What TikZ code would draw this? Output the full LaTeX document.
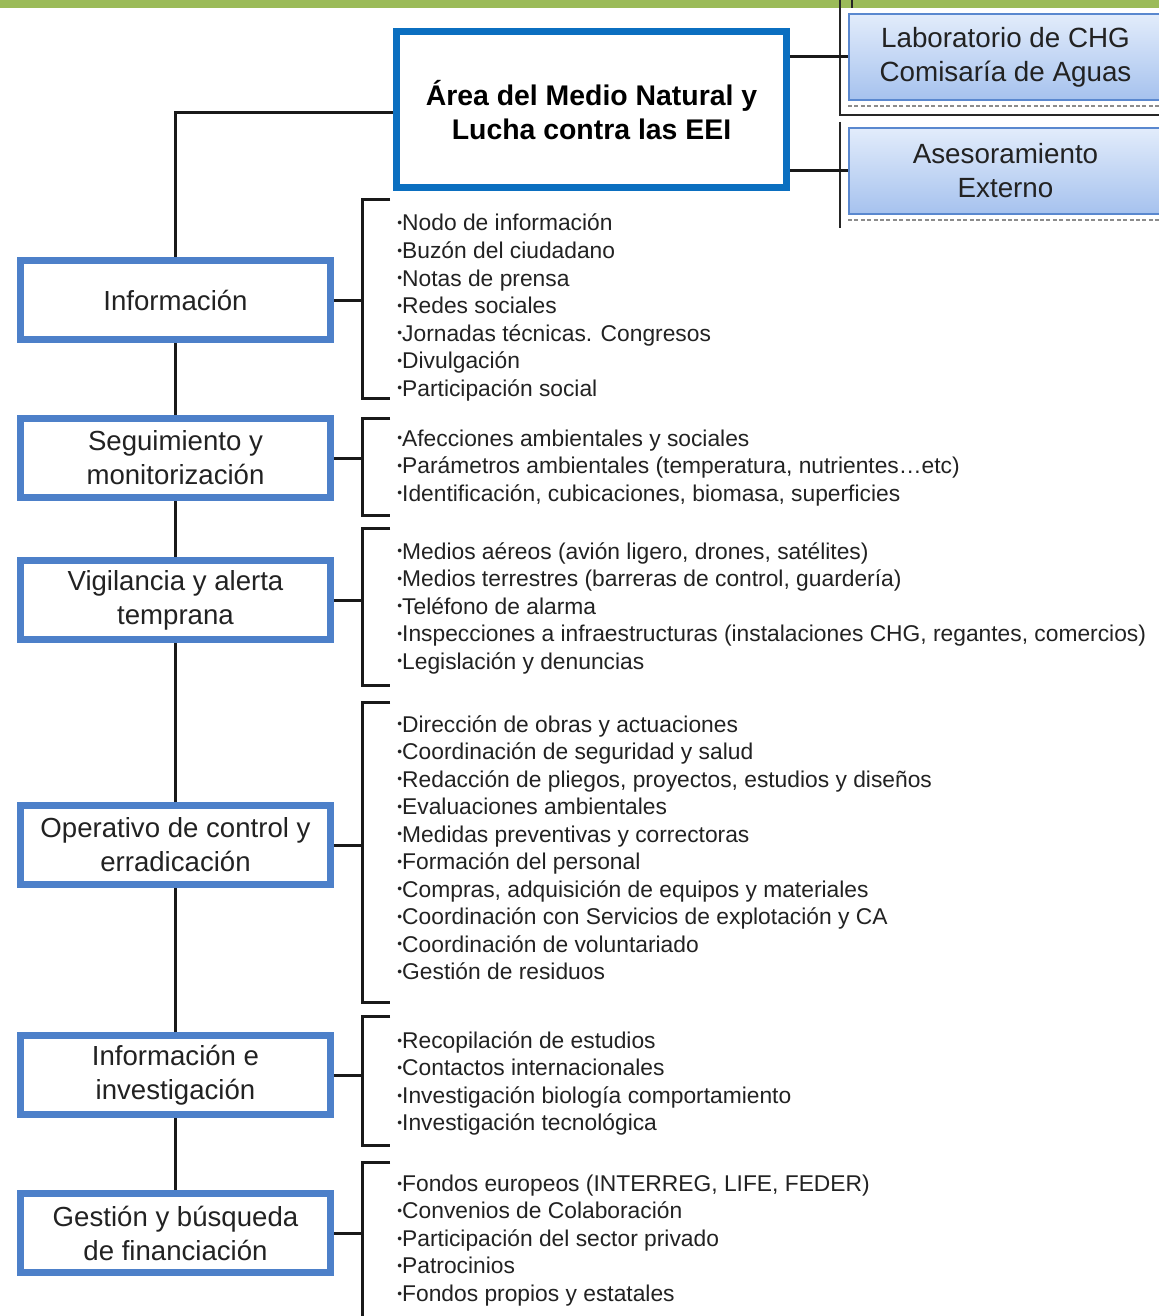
\documentclass[tikz,border=0pt]{standalone}
\usepackage{fontspec}
\setmainfont{Liberation Sans}
\definecolor{barGreen}{HTML}{9BBB59}
\definecolor{mainBlue}{HTML}{0B6FC0}
\definecolor{boxBlue}{HTML}{4D80C9}
\definecolor{extTop}{HTML}{E2ECFB}
\definecolor{extBot}{HTML}{A6C2EE}
\definecolor{extLine}{HTML}{5A88CF}
\definecolor{txt}{HTML}{222222}
\newcommand\itembul{\raisebox{0.25ex}{\scalebox{0.6}{•}}}
\begin{document}
\begin{tikzpicture}[x=0.5pt,y=-0.5pt,
  conn/.style={line width=1.5pt, draw=black!90},
  thin conn/.style={line width=1pt, draw=black!85},
  lbox/.style={draw=boxBlue, line width=3.5pt, fill=white, minimum width=155pt, minimum height=39.5pt, inner sep=0pt, align=center, font=\fontsize{13.8}{17}\selectfont, text=txt},
  mbox/.style={draw=mainBlue, line width=3.5pt, fill=white, minimum width=195pt, minimum height=78pt, inner sep=0pt, align=center, font=\fontsize{14.2}{17}\selectfont\bfseries, text=black},
  ebox/.style={draw=extLine, line width=1pt, top color=extTop, bottom color=extBot, minimum width=156.5pt, minimum height=43pt, inner sep=0pt, align=center, font=\fontsize{13.9}{17}\selectfont, text=txt},
  item/.style={anchor=base west, inner sep=0pt, font=\fontsize{11.4}{13.75}\selectfont, text=txt}]
\useasboundingbox (0,0) rectangle (1159,1316);
\clip (0,0) rectangle (1159,1316);
\fill[white] (0,0) rectangle (1159,1316);
% top bar
\fill[barGreen] (0,0) rectangle (1159,8);

% main box and external boxes
\node[mbox] (main) at (591.5,110) {Área del Medio Natural y\\Lucha contra las EEI};
\node[ebox] (lab) at (1005.5,57) {Laboratorio de CHG\\Comisaría de Aguas};
\node[ebox] (ext) at (1005.5,171) {Asesoramiento\\Externo};

% external frame lines
\coordinate (fa) at (840,0);
\coordinate (fb) at (840,115);
\coordinate (fc) at (1159,115);
\coordinate (fd) at (840,122);
\coordinate (fe) at (840,228);
\coordinate (ff) at (852,0);
\coordinate (fg) at (852,8);
\draw[thin conn] (fa) -- (fb) -- (fc);
\draw[thin conn] (fd) -- (fe);
\draw[thin conn] (ff) -- (fg);
\draw[black!45, line width=0.8pt, dash pattern=on 2pt off 1.2pt] (lab.south west) ++(0,5) -- ++(320,0);
\draw[black!45, line width=0.8pt, dash pattern=on 2pt off 1.2pt] (ext.south west) ++(0,5) -- ++(320,0);
\draw[conn] (main.east |- lab.west) -- (lab.west);
\draw[conn] (main.east |- ext.west) -- (ext.west);

% left boxes
\node[lbox] (info) at (175.5,300) {Información};
\node[lbox] (seg) at (175.5,458) {Seguimiento y\\monitorización};
\node[lbox] (vig) at (175.5,600) {Vigilancia y alerta\\temprana};
\node[lbox] (ope) at (175.5,845) {Operativo de control y\\erradicación};
\node[lbox] (inv) at (175.5,1075) {Información e\\investigación};
\node[lbox] (fin) at (175.5,1233) {Gestión y búsqueda\\de financiación};

% spine
\draw[conn] ([yshift=-1.5pt]main.west) -| (info.north);
\draw[conn] (info.south) -- (seg.north);
\draw[conn] (seg.south) -- (vig.north);
\draw[conn] (vig.south) -- (ope.north);
\draw[conn] (ope.south) -- (inv.north);
\draw[conn] (inv.south) -- (fin.north);

% brackets
\foreach \bx/\top/\bot in {info/200/398, seg/418/515, vig/528/685, ope/702/1002, inv/1016/1145, fin/1162/1330}{
  \coordinate (\bx-t) at (390,\top);
  \coordinate (\bx-b) at (390,\bot);
  \coordinate (\bx-m) at (362,0);
  \draw[conn] (\bx-t) -- (\bx-t -| \bx-m) -- (\bx-b -| \bx-m) -- (\bx-b);
  \draw[conn] (\bx.east) -- (\bx.east -| \bx-m);
}

% lists
\foreach \t [count=\i] in {{Nodo de información},{Buzón del ciudadano},{Notas de prensa},{Redes sociales},{Jornadas técnicas. Congresos},{Divulgación},{Participación social}}
  \node[item] (l1-\i) at (397,{231+27.5*(\i-1)}) {\itembul\t};
\foreach \t [count=\i] in {{Afecciones ambientales y sociales},{Parámetros ambientales (temperatura, nutrientes…etc)},{Identificación, cubicaciones, biomasa, superficies}}
  \node[item] (l2-\i) at (397,{446+27.5*(\i-1)}) {\itembul\t};
\foreach \t [count=\i] in {{Medios aéreos (avión ligero, drones, satélites)},{Medios terrestres (barreras de control, guardería)},{Teléfono de alarma},{Inspecciones a infraestructuras (instalaciones CHG, regantes, comercios)},{Legislación y denuncias}}
  \node[item] (l3-\i) at (397,{559+27.5*(\i-1)}) {\itembul\t};
\foreach \t [count=\i] in {{Dirección de obras y actuaciones},{Coordinación de seguridad y salud},{Redacción de pliegos, proyectos, estudios y diseños},{Evaluaciones ambientales},{Medidas preventivas y correctoras},{Formación del personal},{Compras, adquisición de equipos y materiales},{Coordinación con Servicios de explotación y CA},{Coordinación de voluntariado},{Gestión de residuos}}
  \node[item] (l4-\i) at (397,{732+27.5*(\i-1)}) {\itembul\t};
\foreach \t [count=\i] in {{Recopilación de estudios},{Contactos internacionales},{Investigación biología  comportamiento},{Investigación tecnológica}}
  \node[item] (l5-\i) at (397,{1048+27.6*(\i-1)}) {\itembul\t};
\foreach \t [count=\i] in {{Fondos europeos (INTERREG, LIFE, FEDER)},{Convenios de Colaboración},{Participación del sector privado},{Patrocinios},{Fondos propios y estatales}}
  \node[item] (l6-\i) at (397,{1191+27.5*(\i-1)}) {\itembul\t};
\end{tikzpicture}
\end{document}
